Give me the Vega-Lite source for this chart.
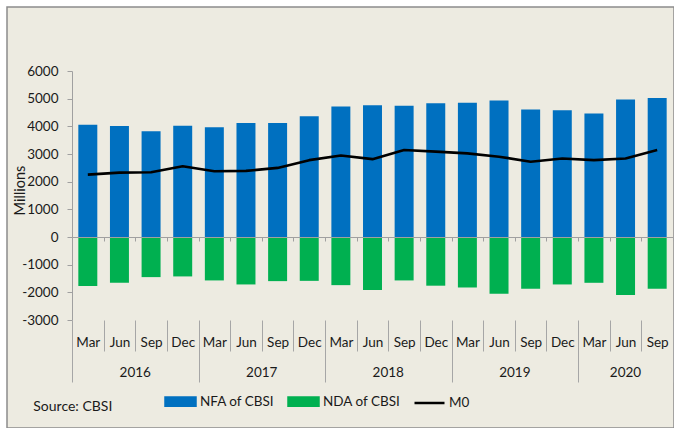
{
  "$schema": "https://vega.github.io/schema/vega-lite/v6.json",
  "width": 667,
  "height": 421,
  "autosize": {"type": "none"},
  "padding": {"left": 7, "top": 7, "right": 0, "bottom": 0},
  "background": "#ffffff",
  "config": {
    "font": "Lato",
    "view": {"fill": "#EDEBE1", "stroke": "#8C8C8C", "strokeWidth": 1.5}
  },
  "title": {
    "text": "Source: CBSI",
    "orient": "bottom",
    "anchor": "start",
    "frame": "group",
    "offset": -16.7,
    "dx": 26.3,
    "baseline": "alphabetic",
    "fontSize": 14,
    "fontWeight": "normal",
    "font": "Lato",
    "color": "#1a1a1a"
  },
  "datasets": {
    "main": [
      {"q": "2016 Mar", "NFA": 4060, "NDA": -1775, "M0": 2255},
      {"q": "2016 Jun", "NFA": 4012, "NDA": -1655, "M0": 2328},
      {"q": "2016 Sep", "NFA": 3818, "NDA": -1450, "M0": 2340},
      {"q": "2016 Dec", "NFA": 4024, "NDA": -1425, "M0": 2559},
      {"q": "2017 Mar", "NFA": 3964, "NDA": -1570, "M0": 2377},
      {"q": "2017 Jun", "NFA": 4121, "NDA": -1715, "M0": 2389},
      {"q": "2017 Sep", "NFA": 4121, "NDA": -1595, "M0": 2498},
      {"q": "2017 Dec", "NFA": 4365, "NDA": -1585, "M0": 2778},
      {"q": "2018 Mar", "NFA": 4717, "NDA": -1740, "M0": 2948},
      {"q": "2018 Jun", "NFA": 4765, "NDA": -1920, "M0": 2814},
      {"q": "2018 Sep", "NFA": 4741, "NDA": -1570, "M0": 3146},
      {"q": "2018 Dec", "NFA": 4838, "NDA": -1760, "M0": 3085},
      {"q": "2019 Mar", "NFA": 4851, "NDA": -1825, "M0": 3024},
      {"q": "2019 Jun", "NFA": 4936, "NDA": -2055, "M0": 2903},
      {"q": "2019 Sep", "NFA": 4608, "NDA": -1870, "M0": 2720},
      {"q": "2019 Dec", "NFA": 4583, "NDA": -1715, "M0": 2838},
      {"q": "2020 Mar", "NFA": 4462, "NDA": -1655, "M0": 2778},
      {"q": "2020 Jun", "NFA": 4972, "NDA": -2100, "M0": 2838},
      {"q": "2020 Sep", "NFA": 5021, "NDA": -1870, "M0": 3146}
    ]
  },
  "data": {"name": "main"},
  "layer": [
    {
      "mark": {"type": "bar", "width": {"band": 0.6}},
      "encoding": {
        "x": {
          "field": "q", "type": "nominal", "sort": null,
          "scale": {"range": [65, 666], "paddingInner": 0, "paddingOuter": 0},
          "axis": {
            "orient": "bottom", "offset": -108, "title": null, "domain": false, "grid": false,
            "labels": false, "tickBand": "extent", "tickColor": "#A6A6A6", "tickWidth": 1,
            "tickSize": {"condition": {"test": "!datum.value || datum.index < 0 || test(/Dec|2020 Sep/, datum.value)", "value": 62}, "value": 31},
            "zindex": 1
          }
        },
        "y": {
          "field": "NFA", "type": "quantitative",
          "scale": {"domain": [-3000, 6000], "range": [313, 64], "nice": false, "zero": false},
          "axis": {
            "orient": "left", "offset": -65, "title": "Millions",
            "titleX": -51.5, "titleY": 183, "titleBaseline": "middle", "titleAlign": "center", "titleAngle": 270,
            "titleFontSize": 14.5, "titleFontWeight": "normal", "titleFont": "Lato", "titleColor": "#1a1a1a",
            "values": [-3000, -2000, -1000, 0, 1000, 2000, 3000, 4000, 5000, 6000],
            "labelExpr": "'' + datum.value", "labelFontSize": 13.5, "labelFont": "Lato", "labelColor": "#1a1a1a",
            "labelPadding": 9, "tickSize": 5, "tickColor": "#A0A0A0", "domainColor": "#A0A0A0", "grid": false
          }
        },
        "color": {
          "datum": "NFA of CBSI", "type": "nominal",
          "scale": {"domain": ["NFA of CBSI", "NDA of CBSI", "M0"], "range": ["#0070C0", "#00B050", "#000000"]},
          "legend": {
            "orient": "none", "legendX": 157, "legendY": 378, "direction": "horizontal", "columns": 3,
            "title": null, "symbolSize": 900, "columnPadding": 8, "labelOffset": 3,
            "labelFontSize": 13.5, "labelFont": "Lato", "labelColor": "#1a1a1a", "labelLimit": 200,
            "encode": {
              "symbols": {
                "update": {
                  "shape": [{"test": "datum.value === 'M0'", "value": "M-1,0H1"}, {"value": "M-1,-0.28H1V0.28H-1Z"}],
                  "fill": [{"test": "datum.value === 'M0'", "value": "transparent"}, {"scale": "color", "field": "value"}],
                  "stroke": [{"test": "datum.value === 'M0'", "value": "#000000"}, {"value": "transparent"}],
                  "strokeWidth": {"value": 2.5},
                  "opacity": {"value": 1}
                }
              }
            }
          }
        }
      }
    },
    {
      "mark": {"type": "bar", "width": {"band": 0.6}},
      "encoding": {
        "x": {
          "field": "q", "type": "nominal", "sort": null,
          "axis": {
            "orient": "bottom", "offset": -108, "title": null, "domain": false, "grid": false, "ticks": false,
            "values": ["2016 Mar", "2017 Mar", "2018 Mar", "2019 Mar", "2020 Mar"],
            "labelExpr": "split(datum.label, ' ')[0]",
            "labelOffset": {"condition": {"test": "datum.value === '2020 Mar'", "value": 31.6}, "value": 47.4},
            "labelAngle": 0, "labelBaseline": "alphabetic", "labelPadding": 56.7,
            "labelFontSize": 13.5, "labelColor": "#1a1a1a", "labelFont": "Lato"
          }
        },
        "y": {
          "field": "NDA", "type": "quantitative",
          "scale": {"domain": [-3000, 6000], "range": [313, 64], "nice": false, "zero": false},
          "axis": {
            "orient": "left", "offset": -65, "title": "Millions",
            "titleX": -51.5, "titleY": 183, "titleBaseline": "middle", "titleAlign": "center", "titleAngle": 270,
            "titleFontSize": 14.5, "titleFontWeight": "normal", "titleFont": "Lato", "titleColor": "#1a1a1a",
            "values": [-3000, -2000, -1000, 0, 1000, 2000, 3000, 4000, 5000, 6000],
            "labelExpr": "'' + datum.value", "labelFontSize": 13.5, "labelFont": "Lato", "labelColor": "#1a1a1a",
            "labelPadding": 9, "tickSize": 5, "tickColor": "#A0A0A0", "domainColor": "#A0A0A0", "grid": false
          }
        },
        "color": {"datum": "NDA of CBSI", "type": "nominal"}
      }
    },
    {
      "mark": {"type": "line", "strokeWidth": 2.6, "strokeJoin": "round"},
      "encoding": {
        "x": {
          "field": "q", "type": "nominal", "sort": null,
          "axis": {
            "orient": "bottom", "offset": -191, "title": null, "domain": true, "domainColor": "#A0A0A0",
            "domainWidth": 1, "grid": false, "tickBand": "extent", "tickSize": 4, "tickColor": "#A0A0A0",
            "labelExpr": "split(datum.label, ' ')[1]", "labelAngle": 0, "labelBaseline": "alphabetic",
            "labelPadding": 105, "labelFontSize": 13.5, "labelColor": "#1a1a1a", "labelFont": "Lato",
            "zindex": 1
          }
        },
        "y": {
          "field": "M0", "type": "quantitative",
          "scale": {"domain": [-3000, 6000], "range": [313, 64], "nice": false, "zero": false},
          "axis": {
            "orient": "left", "offset": -65, "title": "Millions",
            "titleX": -51.5, "titleY": 183, "titleBaseline": "middle", "titleAlign": "center", "titleAngle": 270,
            "titleFontSize": 14.5, "titleFontWeight": "normal", "titleFont": "Lato", "titleColor": "#1a1a1a",
            "values": [-3000, -2000, -1000, 0, 1000, 2000, 3000, 4000, 5000, 6000],
            "labelExpr": "'' + datum.value", "labelFontSize": 13.5, "labelFont": "Lato", "labelColor": "#1a1a1a",
            "labelPadding": 9, "tickSize": 5, "tickColor": "#A0A0A0", "domainColor": "#A0A0A0", "grid": false
          }
        },
        "color": {"datum": "M0", "type": "nominal"}
      }
    }
  ],
  "resolve": {"axis": {"x": "independent"}}
}
